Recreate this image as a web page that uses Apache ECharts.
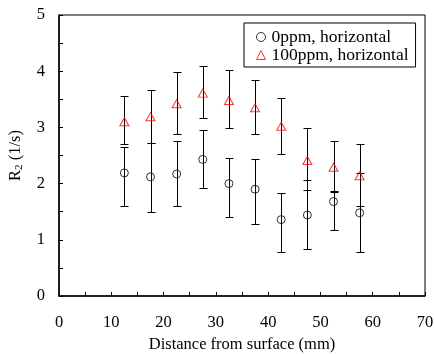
<!DOCTYPE html>
<html>
<head>
<meta charset="utf-8">
<script src="https://cdn.jsdelivr.net/npm/echarts@6/dist/echarts.min.js"></script>
<style>html,body{margin:0;padding:0;background:#fff}#c{width:434px;height:354px}</style>
</head>
<body>
<div id="c"></div>
<script>
const distances = [12.5, 17.5, 22.5, 27.5, 32.5, 37.5, 42.5, 47.5, 52.5, 57.5];
const r2_0ppm = [2.19, 2.12, 2.17, 2.43, 2.00, 1.90, 1.36, 1.44, 1.68, 1.48];
const r2_0ppmLow = [1.60, 1.50, 1.60, 1.93, 1.40, 1.28, 0.78, 0.84, 1.18, 0.78];
const r2_0ppmHigh = [2.66, 2.73, 2.76, 2.96, 2.45, 2.44, 1.84, 2.06, 1.86, 2.18];
const r2_100ppm = [3.10, 3.19, 3.42, 3.61, 3.48, 3.35, 3.02, 2.41, 2.29, 2.14];
const r2_100ppmLow = [2.70, 2.73, 2.88, 3.17, 2.99, 2.88, 2.53, 1.88, 1.85, 1.60];
const r2_100ppmHigh = [3.56, 3.66, 3.99, 4.09, 4.02, 3.84, 3.53, 2.99, 2.75, 2.71];
const seriesNames = ['0ppm, horizontal', '100ppm, horizontal'];

const font = 'Liberation Serif';

function errData(low, high) {
  return distances.map((x, i) => [x, low[i], high[i]]);
}
function errSeries(low, high) {
  return {
    type: 'custom',
    silent: true,
    z: 1,
    data: errData(low, high),
    encode: { x: 0, y: [1, 2] },
    renderItem: function (params, api) {
      const x = api.value(0);
      const lo = api.coord([x, api.value(1)]);
      const hi = api.coord([x, api.value(2)]);
      const px = Math.round(lo[0]) + 0.5;
      const ylo = Math.round(lo[1]) + 0.5, yhi = Math.round(hi[1]) + 0.5;
      const w = 4;
      const st = { stroke: '#000', lineWidth: 1, fill: null };
      return {
        type: 'group',
        children: [
          { type: 'line', shape: { x1: px, y1: yhi, x2: px, y2: ylo }, style: st },
          { type: 'line', shape: { x1: px - w, y1: yhi, x2: px + w, y2: yhi }, style: st },
          { type: 'line', shape: { x1: px - w, y1: ylo, x2: px + w, y2: ylo }, style: st }
        ]
      };
    }
  };
}

const chart = echarts.init(document.getElementById('c'), null, { renderer: 'canvas' });
chart.setOption({
  backgroundColor: '#fff',
  animation: false,
  textStyle: { fontFamily: font, color: '#000' },
  grid: { left: 59, right: 9, top: 15, bottom: 58, show: true, borderColor: '#000', borderWidth: 1,
    containLabel: false, outerBoundsMode: 'none' },
  legend: {
    left: 244, top: 23, width: 172,
    orient: 'vertical',
    backgroundColor: '#fff',
    borderColor: '#000', borderWidth: 1,
    padding: [5, 7, 3, 12],
    itemGap: 0,
    itemWidth: 9, itemHeight: 9,
    textStyle: { fontFamily: font, fontSize: 17.5, lineHeight: 18, color: '#000', padding: [0, 0, 0, 1] },
    data: [
      { name: seriesNames[0], icon: 'circle', itemStyle: { color: 'transparent', borderColor: '#000', borderWidth: 1 } },
      { name: seriesNames[1], icon: 'triangle', itemStyle: { color: 'transparent', borderColor: '#ff0000', borderWidth: 1 } }
    ]
  },
  xAxis: {
    type: 'value', min: 0, max: 70, interval: 10,
    name: 'Distance from surface (mm)', nameLocation: 'middle', nameGap: 39,
    nameTextStyle: { fontFamily: font, fontSize: 16.5, color: '#000' },
    axisLine: { show: true, lineStyle: { color: '#000', width: 1.5 } },
    axisTick: { show: true, inside: true, length: 4, lineStyle: { color: '#000' } },
    minorTick: { show: true, splitNumber: 2, length: 4, lineStyle: { color: '#000' } },
    splitLine: { show: false },
    axisLabel: { fontFamily: font, fontSize: 16.5, color: '#000', margin: 18 }
  },
  yAxis: {
    type: 'value', min: 0, max: 5, interval: 1,
    name: 'R{sub|2} (1/s)', nameLocation: 'middle', nameGap: 34, nameRotate: 90,
    nameTextStyle: { fontFamily: font, fontSize: 16.5, color: '#000',
      rich: { sub: { fontFamily: font, fontSize: 11, color: '#000', verticalAlign: 'bottom', padding: [7, 0, 0, 0] } } },
    axisLine: { show: true, lineStyle: { color: '#000', width: 1.5 } },
    axisTick: { show: true, inside: true, length: 4, lineStyle: { color: '#000' } },
    minorTick: { show: true, splitNumber: 2, length: 4, lineStyle: { color: '#000' } },
    splitLine: { show: false },
    axisLabel: { fontFamily: font, fontSize: 16.5, color: '#000', margin: 14 }
  },
  series: [
    errSeries(r2_0ppmLow, r2_0ppmHigh),
    errSeries(r2_100ppmLow, r2_100ppmHigh),
    {
      name: seriesNames[0], type: 'scatter', z: 3,
      symbol: 'circle', symbolSize: 8,
      itemStyle: { color: 'transparent', borderColor: '#000', borderWidth: 1 },
      data: distances.map((x, i) => [x, r2_0ppm[i]])
    },
    {
      name: seriesNames[1], type: 'scatter', z: 3,
      symbol: 'triangle', symbolSize: [9, 8],
      itemStyle: { color: 'transparent', borderColor: '#ff0000', borderWidth: 1 },
      data: distances.map((x, i) => [x, r2_100ppm[i]])
    }
  ]
});
</script>
</body>
</html>
